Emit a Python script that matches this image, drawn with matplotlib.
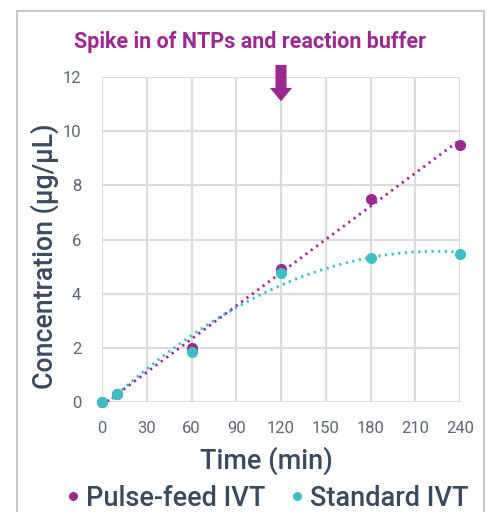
import numpy as np
import matplotlib
matplotlib.use("Agg")
import matplotlib.pyplot as plt
from matplotlib.patches import Rectangle

plt.rcParams['font.family'] = ['Roboto', 'DejaVu Sans']

time_min = [0, 10, 60, 120, 180, 240]
pulse_feed = [0.0, 0.28, 1.98, 4.91, 7.5, 9.49]
standard = [0.0, 0.28, 1.86, 4.77, 5.32, 5.47]
x_ticks = [0, 30, 60, 90, 120, 150, 180, 210, 240]
y_ticks = [0, 2, 4, 6, 8, 10, 12]
spike_time = 120

PURPLE = '#9a2a8f'
TEAL = '#3dbfc6'
TEXT = '#3c4a5e'
TICK = '#5d6676'
GRID = '#dcdcdc'

fig = plt.figure(figsize=(4.92, 5.12), dpi=100)
fig.patch.set_facecolor('white')
fig.patches.append(Rectangle((17/492, -0.05), (484-17)/492, 1.05 - 11/512,
                             transform=fig.transFigure, fill=False,
                             edgecolor='#c4c4c8', lw=1.3))

ax = fig.add_axes([102/492, 1-402/512, (460-102)/492, (402-77)/512])
ax.set_xlim(0, 240)
ax.set_ylim(0, 12)
ax.set_xticks(x_ticks)
ax.set_yticks(y_ticks)
for s in ax.spines.values():
    s.set_visible(False)
ax.grid(True, color=GRID, lw=1.6)
ax.set_axisbelow(True)
ax.tick_params(length=0, labelsize=12, colors=TICK)
ax.tick_params(axis='x', pad=14)
ax.tick_params(axis='y', pad=15)

xs = np.linspace(0, 240, 200)
p1 = np.polyfit(time_min, pulse_feed, 1)
p2 = np.polyfit(time_min, standard, 2)
ax.plot(xs, np.polyval(p1, xs), color=PURPLE, lw=2, ls=(0, (0.8, 1.6)))
ax.plot(xs, np.polyval(p2, xs), color=TEAL, lw=2, ls=(0, (0.8, 1.6)))

ax.plot(time_min, pulse_feed, 'o', color=PURPLE, ms=7, clip_on=False, zorder=5,
        label='Pulse-feed IVT')
ax.plot(time_min, standard, 'o', color=TEAL, ms=7, clip_on=False, zorder=6,
        label='Standard IVT')

ax.set_xlabel('Time (min)', fontsize=19.5, color=TEXT, fontweight='medium')
ax.xaxis.set_label_coords((266-102)/358, (402-461)/325)
ax.xaxis.label.set_va('center')
ax.set_ylabel('Concentration (µg/µL)', fontsize=19.2, color=TEXT, fontweight='medium')
ax.yaxis.set_label_coords((45-102)/358, (402-256)/325)
ax.yaxis.label.set_va('center')
ax.yaxis.label.set_ha('center')

ax.annotate('', xy=(spike_time, 11.0), xytext=(spike_time, 12.55),
            xycoords='data', annotation_clip=False,
            arrowprops=dict(arrowstyle='simple,head_width=1.0,head_length=0.6,tail_width=0.5',
                            mutation_scale=16, color=PURPLE, lw=0))
fig.text(250/492, 1-42/512, 'Spike in of NTPs and reaction buffer', ha='center', va='center',
         fontsize=15.5, fontweight='bold', color=PURPLE)

handles = [plt.Line2D([], [], marker='o', ls='', color=PURPLE, ms=5.5),
           plt.Line2D([], [], marker='o', ls='', color=TEAL, ms=5.5)]
leg = fig.legend(handles, ['Pulse-feed IVT', 'Standard IVT'], loc='center',
                 bbox_to_anchor=(268/492, 1-498/512), ncol=2, frameon=False,
                 fontsize=19.5, handlelength=0.4, handletextpad=0.25, columnspacing=1.0,
                 borderaxespad=0, borderpad=0)
for t in leg.get_texts():
    t.set_color(TEXT)
    t.set_fontweight('medium')

fig.savefig('out.png', dpi=100, facecolor='white')
